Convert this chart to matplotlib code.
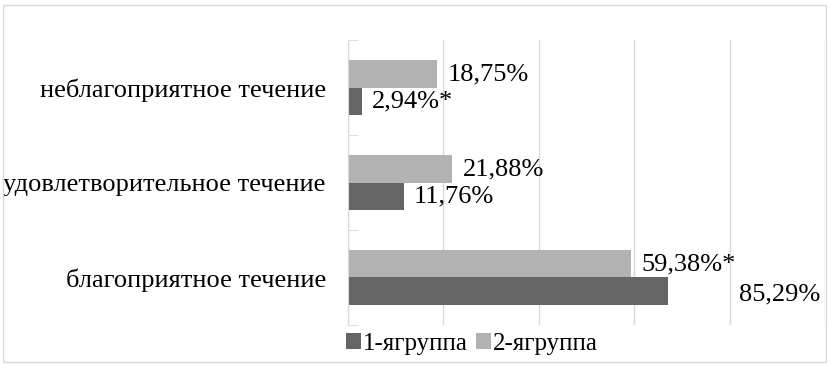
import matplotlib.pyplot as plt
from matplotlib.patches import Rectangle
import numpy as np

plt.rcParams['font.family'] = ['Liberation Serif', 'DejaVu Serif']

# categories, bottom to top
categories = ['благоприятное течение', 'удовлетворительное течение', 'неблагоприятное течение']
group_names = ['1-ягруппа', '2-ягруппа']
# bar lengths as drawn in the reference (%)
group1 = [67.0, 11.76, 2.94]
group2 = [59.38, 21.88, 18.75]
# data labels as printed
group1_labels = ['85,29%', '11,76%', '2,94%*']
group2_labels = ['59,38%*', '21,88%', '18,75%']

dark = '#656565'
light = '#b2b2b2'

fig = plt.figure(figsize=(8.29, 3.65), dpi=100)
ax = fig.add_axes([0.4198, 0.1096, 0.5754, 0.7808])

y = np.arange(len(categories))
h = 0.285
ax.barh(y - h / 2, group1, height=h, color=dark, label=group_names[0])
ax.barh(y + h / 2, group2, height=h, color=light, label=group_names[1])

# data labels; the 85,29% label sits off to the right in the original
for i in range(len(categories)):
    dx = 15 if i == 0 else 2.1
    dy = -0.04 if i == 0 else 0
    ax.text(group1[i] + dx, y[i] - h / 2 + dy, group1_labels[i], va='center', ha='left', fontsize=19)
    ax.text(group2[i] + 2.1, y[i] + h / 2, group2_labels[i], va='center', ha='left', fontsize=19)

ax.set_xlim(0, 100)
ax.set_ylim(-0.5, 2.5)
ax.set_xticks(np.arange(0, 101, 20))
ax.set_xticklabels([])
ax.tick_params(axis='x', length=0)
ax.grid(axis='x', color='#d9d9d9', linewidth=1)
ax.set_axisbelow(True)

ax.set_yticks(y)
ax.set_yticklabels(categories, fontsize=19)
ax.tick_params(axis='y', length=0, pad=16)
ax.set_yticks([-0.5, 0.5, 1.5, 2.5], minor=True)
ax.tick_params(axis='y', which='minor', direction='in', length=7, color='#d9d9d9')

for s in ['top', 'right', 'bottom']:
    ax.spines[s].set_visible(False)
ax.spines['left'].set_color('#d9d9d9')

fig.legend(loc='center left', bbox_to_anchor=(0.405, 0.058), ncol=2, frameon=False,
           fontsize=18, handlelength=0.6, handleheight=0.6, handletextpad=0.1,
           columnspacing=0.3, borderaxespad=0)

# outer chart border
fig.patches.append(Rectangle((0.004, 0.008), 0.992, 0.978, transform=fig.transFigure,
                             fill=False, edgecolor='#d9d9d9', linewidth=1))

fig.savefig('out.png', dpi=100)
